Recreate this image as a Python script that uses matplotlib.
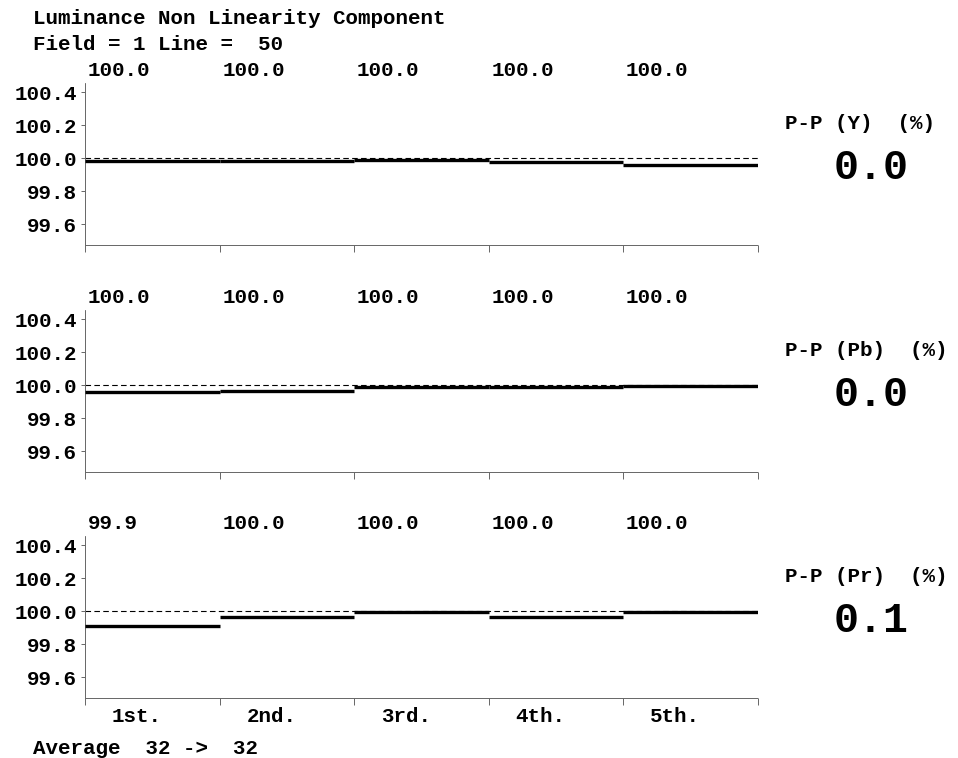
import matplotlib
matplotlib.use("Agg")
import matplotlib.pyplot as plt
import matplotlib.transforms as mtransforms

plt.rcParams['font.family'] = ['Liberation Mono', 'DejaVu Sans Mono']
plt.rcParams['font.weight'] = 'bold'

title_line1 = "Luminance Non Linearity Component"
title_line2 = "Field = 1 Line =  50"
footer = "Average  32 ->  32"

segments = ["1st.", "2nd.", "3rd.", "4th.", "5th."]
channels = ["Y", "Pb", "Pr"]

y_values = [99.98, 99.985, 99.99, 99.975, 99.955]
pb_values = [99.955, 99.965, 99.99, 99.99, 99.995]
pr_values = [99.91, 99.965, 99.995, 99.965, 99.995]

y_labels = ["100.0", "100.0", "100.0", "100.0", "100.0"]
pb_labels = ["100.0", "100.0", "100.0", "100.0", "100.0"]
pr_labels = ["99.9", "100.0", "100.0", "100.0", "100.0"]

pp_values = ["0.0", "0.0", "0.1"]

yticks = [99.6, 99.8, 100.0, 100.2, 100.4]
ytick_labels = ["99.6", "99.8", "100.0", "100.2", "100.4"]
reference = 100.0
ylim = (99.473, 100.455)

series = [y_values, pb_values, pr_values]
seg_labels = [y_labels, pb_labels, pr_labels]

W, H = 958, 758
fig = plt.figure(figsize=(W / 100, H / 100), dpi=100)

left = 85 / W
width = 673 / W
bottoms_px = [245, 472, 698]
height = 162 / H

fig.text(33 / W, 1 - 19 / H, title_line1, fontsize=15, fontweight='bold', va='center', ha='left')
fig.text(33 / W, 1 - 45 / H, title_line2, fontsize=15, fontweight='bold', va='center', ha='left')
fig.text(33 / W, 1 - 748 / H, footer, fontsize=15, fontweight='bold', va='center', ha='left')

n = len(segments)
for k, (vals, labs, ch, pp, bpx) in enumerate(zip(series, seg_labels, channels, pp_values, bottoms_px)):
    ax = fig.add_axes([left, 1 - bpx / H, width, height])
    ax.set_xlim(0, n)
    ax.set_ylim(*ylim)
    for s in ['top', 'right']:
        ax.spines[s].set_visible(False)
    for s in ['left', 'bottom']:
        ax.spines[s].set_linestyle((0, (1.5, 1.0)))
        ax.spines[s].set_linewidth(0.7)
        ax.spines[s].set_color('#666666')
    ax.axhline(reference, color='black', lw=0.8, linestyle=(0, (5, 3)), zorder=2)
    ax.hlines(vals, list(range(n)), list(range(1, n + 1)), colors='black', lw=2.4, zorder=3)

    ax.set_yticks(yticks)
    ax.set_yticklabels(ytick_labels)
    ax.set_xticks(list(range(n + 1)))
    ax.set_xticklabels([])
    ax.tick_params(axis='y', length=3, width=0.7, color='#666666', pad=3,
                   labelsize=15)
    ax.tick_params(axis='x', length=5, width=0.7, color='#666666', direction='out')
    for lbl in ax.get_yticklabels():
        lbl.set_fontweight('bold')

    trans = mtransforms.blended_transform_factory(ax.transData, ax.transAxes)
    for i, lab in enumerate(labs):
        ax.text(i + 0.02, 1.08, lab, transform=trans, fontsize=15, fontweight='bold',
                ha='left', va='center')

    ax.text(1.040, 0.753, f"P-P ({ch})  (%)", transform=ax.transAxes, fontsize=15,
            fontweight='bold', ha='left', va='center', clip_on=False)
    ax.text(1.1686, 0.475, pp, transform=ax.transAxes, fontsize=30,
            fontweight='bold', ha='center', va='center', clip_on=False)

    if k == len(series) - 1:
        for i, seg in enumerate(segments):
            ax.text(i + 0.2, -0.117, seg, transform=trans, fontsize=15, fontweight='bold',
                    ha='left', va='center')

fig.savefig("out.png", dpi=100)
